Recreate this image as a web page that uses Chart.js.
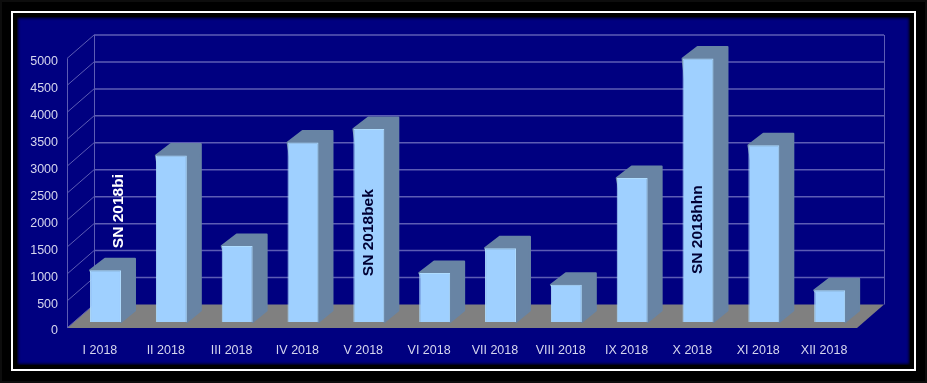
<!DOCTYPE html>
<html>
<head>
<meta charset="utf-8">
<style>
    html, body { margin: 0; padding: 0; background: #000; width: 927px; height: 383px; overflow: hidden; }
    #edge { position: absolute; left: 0; top: 0; width: 923px; height: 379px; border: 2px solid #0d0d0d; }
    #frame { position: absolute; left: 11px; top: 11px; width: 901px; height: 356px; border: 2px solid #fff; }
    #panel { position: absolute; left: 17px; top: 17px; width: 893px; height: 348px; background: #000080; box-shadow: inset 0 0 3px 1px #000; }
    canvas { position: absolute; left: 0; top: 0; }
</style>
</head>
<body>
<div id="edge"></div>
<div id="frame"></div>
<div id="panel"></div>
<canvas id="chart" width="927" height="383"></canvas>
<script src="https://cdn.jsdelivr.net/npm/chart.js@4"></script>
<script>
const categories = ['I 2018', 'II 2018', 'III 2018', 'IV 2018', 'V 2018', 'VI 2018', 'VII 2018', 'VIII 2018', 'IX 2018', 'X 2018', 'XI 2018', 'XII 2018'];
const values = [960, 3090, 1410, 3330, 3580, 910, 1370, 690, 2670, 4890, 3280, 590];

// Rotated supernova notes: category index, value where the text starts, colour
const noteTexts = ['SN 2018bi', 'SN 2018bek', 'SN 2018hhn'];
const noteIndexes = [0, 4, 9];
const noteStarts = [1370, 850, 890];
const noteColors = ['#ffffff', '#000033', '#000033'];

// Fake 3D depth
const WALL_DX = 27, WALL_DY = -23.5;
const BAR_DX = 5.6, BAR_DY = -6;
const SIDE_DX = 15, SIDE_DY = -11.5;

const GRID = '#5c5cb4';
const SIDE = '#6884a4';

const box3d = {
    id: 'box3d',
    beforeDatasetsDraw(chart) {
        const { ctx, chartArea: a, scales: { y } } = chart;
        ctx.save();

        // floor
        ctx.fillStyle = '#808080';
        ctx.beginPath();
        ctx.moveTo(a.left, a.bottom);
        ctx.lineTo(a.right, a.bottom);
        ctx.lineTo(a.right + WALL_DX, a.bottom + WALL_DY);
        ctx.lineTo(a.left + WALL_DX, a.bottom + WALL_DY);
        ctx.closePath();
        ctx.fill();

        // walls and grid lines
        ctx.strokeStyle = GRID;
        y.ticks.forEach((t) => {
            const py = y.getPixelForValue(t.value);
            ctx.lineWidth = 1;
            ctx.beginPath();
            ctx.moveTo(a.left, py);
            ctx.lineTo(a.left + WALL_DX, py + WALL_DY);
            ctx.stroke();
            if (t.value === 0) return;
            ctx.lineWidth = 1.5;
            ctx.beginPath();
            ctx.moveTo(a.left + WALL_DX, py + WALL_DY);
            ctx.lineTo(a.right + WALL_DX, py + WALL_DY);
            ctx.stroke();
        });
        ctx.lineWidth = 1;
        ctx.beginPath();
        ctx.moveTo(a.left + 0.5, a.top);
        ctx.lineTo(a.left + 0.5, a.bottom);
        ctx.moveTo(a.left + WALL_DX + 0.5, a.top + WALL_DY);
        ctx.lineTo(a.left + WALL_DX + 0.5, a.bottom + WALL_DY);
        ctx.moveTo(a.right + WALL_DX + 0.5, a.top + WALL_DY);
        ctx.lineTo(a.right + WALL_DX + 0.5, a.bottom + WALL_DY);
        ctx.stroke();

        // bar sides and tops, shifted to sit in the middle of the floor
        ctx.translate(BAR_DX, BAR_DY);
        chart.getDatasetMeta(0).data.forEach((bar) => {
            const l = bar.x - bar.width / 2, r = bar.x + bar.width / 2;
            ctx.fillStyle = SIDE;
            ctx.strokeStyle = SIDE;
            ctx.lineJoin = 'round';
            ctx.lineWidth = 2;
            ctx.beginPath();
            ctx.moveTo(l, bar.y);
            ctx.lineTo(l + SIDE_DX, bar.y + SIDE_DY);
            ctx.lineTo(r + SIDE_DX - 1, bar.y + SIDE_DY);
            ctx.lineTo(r + SIDE_DX - 1, bar.base + SIDE_DY);
            ctx.lineTo(r, bar.base);
            ctx.closePath();
            ctx.fill();
            ctx.stroke();
        });
        // left translated for the dataset draw, restored below
    },
    afterDatasetsDraw(chart) {
        const { ctx, scales: { y } } = chart;
        const bars = chart.getDatasetMeta(0).data;
        ctx.font = 'bold 15.5px "Liberation Sans", Arial, sans-serif';
        ctx.textAlign = 'left';
        ctx.textBaseline = 'middle';
        noteTexts.forEach((text, i) => {
            ctx.save();
            ctx.translate(bars[noteIndexes[i]].x + (i === 0 ? 13.5 : 0), y.getPixelForValue(noteStarts[i]));
            ctx.rotate(-Math.PI / 2);
            ctx.fillStyle = noteColors[i];
            ctx.fillText(text, 0, 0);
            ctx.restore();
        });
        ctx.restore();
    },
};

new Chart(document.getElementById('chart'), {
    type: 'bar',
    data: {
        labels: categories,
        datasets: [{
            data: values,
            backgroundColor: '#9fd0ff',
            borderColor: '#aedcff',
            borderWidth: 1,
            barPercentage: 1,
            categoryPercentage: 0.47,
        }],
    },
    plugins: [box3d],
    options: {
        responsive: false,
        animation: false,
        layout: { padding: { top: 58.5, right: 70, left: 0, bottom: 0 } },
        plugins: { legend: { display: false }, tooltip: { enabled: false } },
        scales: {
            x: {
                grid: { display: false },
                border: { display: false },
                ticks: {
                    color: '#d6d6ee',
                    font: { size: 12.5, family: '"Liberation Sans", Arial, sans-serif' },
                    maxRotation: 0,
                    autoSkip: false,
                    padding: 7,
                },
                afterFit(scale) { scale.height = 55; },
            },
            y: {
                min: 0,
                max: 5000,
                grid: { display: false },
                border: { display: false },
                ticks: {
                    stepSize: 500,
                    color: '#d6d6ee',
                    font: { size: 12.5, family: '"Liberation Sans", Arial, sans-serif' },
                    padding: 1,
                    labelOffset: 3,
                    callback: (v) => String(v),
                },
                afterFit(scale) { scale.width = 67; },
            },
        },
    },
});
</script>
</body>
</html>
